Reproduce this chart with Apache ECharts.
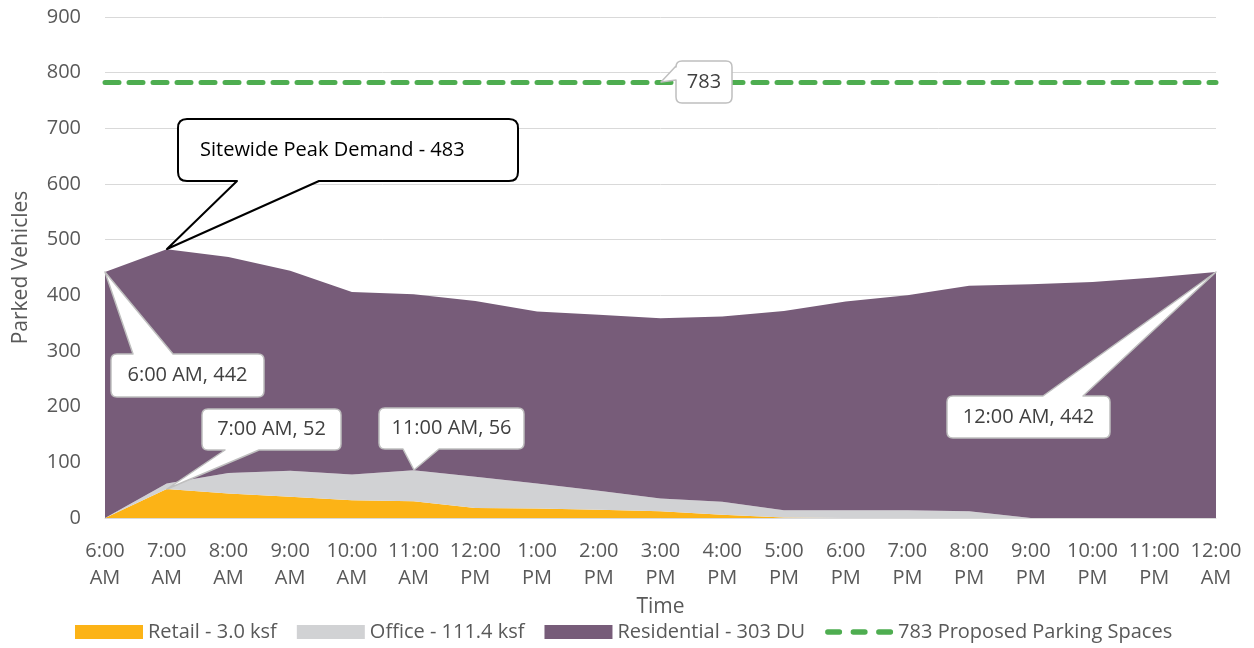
<!DOCTYPE html>
<html>
<head>
<meta charset="utf-8">
<title>Parked Vehicles</title>
<script src="https://cdn.jsdelivr.net/npm/echarts@6/dist/echarts.min.js"></script>
<style>
  html, body { margin: 0; padding: 0; background: #fff; }
  #chart { width: 1254px; height: 648px; }
</style>
</head>
<body>
<div id="chart"></div>
<script>
// data
const hours = ['6:00 AM', '7:00 AM', '8:00 AM', '9:00 AM', '10:00 AM', '11:00 AM',
  '12:00 PM', '1:00 PM', '2:00 PM', '3:00 PM', '4:00 PM', '5:00 PM', '6:00 PM',
  '7:00 PM', '8:00 PM', '9:00 PM', '10:00 PM', '11:00 PM', '12:00 AM'];
const retail = [0, 52, 44, 38, 32, 30, 18, 17, 15, 12, 6, 1, 0, 0, 0, 0, 0, 0, 0];
const office = [0, 10, 37, 47, 46, 56, 56, 45, 34, 23, 23, 13, 14, 14, 12, 0, 0, 0, 0];
const residential = [442, 421, 388, 359, 328, 316, 316, 309, 316, 324, 333, 358, 375, 386, 405, 420, 424, 432, 442];
const parkingSpaces = 783;
const seriesNames = ['Retail - 3.0 ksf', 'Office - 111.4 ksf', 'Residential - 303 DU', '783 Proposed Parking Spaces'];

const colors = {
  retail: '#FCB316',
  office: '#D1D2D4',
  residential: '#775C79',
  parking: '#4EAD50',
  text: '#595959'
};
const font = '"Open Sans", "Noto Sans", sans-serif';

// rounded box with a wedge pointing at (tx, ty)
var Callout = echarts.graphic.extendShape({
  shape: { x: 0, y: 0, w: 0, h: 0, r: 6, side: 'bottom', b1: 0, b2: 0, tx: 0, ty: 0 },
  buildPath: function (ctx, s) {
    var x = s.x, y = s.y, w = s.w, h = s.h, r = s.r;
    ctx.moveTo(x + r, y);
    if (s.side === 'top') { ctx.lineTo(x + s.b1, y); ctx.lineTo(s.tx, s.ty); ctx.lineTo(x + s.b2, y); }
    ctx.lineTo(x + w - r, y);
    ctx.quadraticCurveTo(x + w, y, x + w, y + r);
    ctx.lineTo(x + w, y + h - r);
    ctx.quadraticCurveTo(x + w, y + h, x + w - r, y + h);
    if (s.side === 'bottom') { ctx.lineTo(x + s.b2, y + h); ctx.lineTo(s.tx, s.ty); ctx.lineTo(x + s.b1, y + h); }
    ctx.lineTo(x + r, y + h);
    ctx.quadraticCurveTo(x, y + h, x, y + h - r);
    if (s.side === 'left') { ctx.lineTo(x, y + s.b2); ctx.lineTo(s.tx, s.ty); ctx.lineTo(x, y + s.b1); }
    ctx.lineTo(x, y + r);
    ctx.quadraticCurveTo(x, y, x + r, y);
    ctx.closePath();
  }
});
echarts.graphic.registerShape('callout', Callout);

var chart = echarts.init(document.getElementById('chart'));

function areaSeries(name, data, color) {
  return {
    name: name,
    type: 'line',
    stack: 'total',
    data: data,
    showSymbol: false,
    symbol: 'none',
    lineStyle: { width: 0 },
    itemStyle: { color: color },
    areaStyle: { color: color, opacity: 1 },
    silent: true
  };
}

var dashIcon = 'path://M2.5,0 h11 a2.5,2.5 0 0 1 0,5 h-11 a2.5,2.5 0 0 1 0,-5 Z ' +
  'M26.5,0 h11 a2.5,2.5 0 0 1 0,5 h-11 a2.5,2.5 0 0 1 0,-5 Z ' +
  'M50.5,0 h11 a2.5,2.5 0 0 1 0,5 h-11 a2.5,2.5 0 0 1 0,-5 Z';

chart.setOption({
  animation: false,
  textStyle: { fontFamily: font },
  grid: { left: 105, right: 38, top: 17, bottom: 130, containLabel: false, outerBoundsMode: 'none' },
  xAxis: {
    type: 'category',
    data: hours,
    boundaryGap: false,
    name: 'Time',
    nameLocation: 'middle',
    nameGap: 70,
    nameTextStyle: { color: colors.text, fontSize: 21, fontFamily: font },
    axisLine: { lineStyle: { color: '#D9D9D9', width: 1 } },
    axisTick: { show: false },
    axisLabel: {
      color: colors.text,
      fontSize: 20,
      lineHeight: 27,
      margin: 20,
      interval: 0,
      fontFamily: font,
      formatter: function (v) { return v.replace(' ', '\n'); }
    }
  },
  yAxis: {
    type: 'value',
    min: 0,
    max: 900,
    interval: 100,
    name: 'Parked Vehicles',
    nameLocation: 'middle',
    nameGap: 73,
    nameTextStyle: { color: colors.text, fontSize: 21, fontFamily: font },
    axisLine: { show: false },
    axisTick: { show: false },
    axisLabel: { color: colors.text, fontSize: 20, margin: 24, fontFamily: font },
    splitLine: { lineStyle: { color: '#D9D9D9', width: 1 } }
  },
  legend: {
    left: 70,
    top: 617,
    itemWidth: 68,
    itemHeight: 14,
    itemGap: 20,
    textStyle: { color: colors.text, fontSize: 20, fontFamily: font },
    data: [
      { name: seriesNames[0], icon: 'rect' },
      { name: seriesNames[1], icon: 'rect' },
      { name: seriesNames[2], icon: 'rect' },
      { name: seriesNames[3], icon: dashIcon, itemStyle: { color: colors.parking } }
    ]
  },
  series: [
    areaSeries(seriesNames[0], retail, colors.retail),
    areaSeries(seriesNames[1], office, colors.office),
    areaSeries(seriesNames[2], residential, colors.residential),
    {
      name: seriesNames[3],
      type: 'line',
      data: [],
      symbol: 'none',
      itemStyle: { color: colors.parking },
      lineStyle: { color: colors.parking, width: 5, type: [14, 10], cap: 'round' },
      markLine: {
        silent: true,
        symbol: 'none',
        label: { show: false },
        lineStyle: { color: colors.parking, width: 5, type: [14, 10], cap: 'round' },
        data: [{ yAxis: parkingSpaces }]
      },
      z: 5
    }
  ]
});

// callouts, anchored on data points
function total(i) { return retail[i] + office[i] + residential[i]; }

const callouts = [
  { text: 'Sitewide Peak Demand - ' + total(1), idx: 1, value: total(1), dx: 11, dy: -130, w: 340, h: 62,
    side: 'bottom', b1: 59, b2: 141, stroke: '#000', lw: 2, r: 9, color: '#000', left: true },
  { text: String(parkingSpaces), idx: 9, value: parkingSpaces, dx: 15, dy: -21, w: 56, h: 42,
    side: 'left', b1: 5, b2: 19 },
  { text: hours[0] + ', ' + total(0), idx: 0, value: total(0), dx: 6, dy: 82, w: 153, h: 43,
    side: 'top', b1: 22, b2: 62 },
  { text: hours[1] + ', ' + retail[1], idx: 1, value: retail[1], dx: 35, dy: -80, w: 139, h: 41,
    side: 'bottom', b1: 23, b2: 57 },
  { text: hours[5] + ', ' + office[5], idx: 5, value: retail[5] + office[5], dx: -35, dy: -62, w: 145, h: 41,
    side: 'bottom', b1: 24, b2: 60 },
  { text: hours[18] + ', ' + total(18), idx: 18, value: total(18), dx: -269, dy: 124, w: 163, h: 42,
    side: 'top', b1: 96, b2: 136 }
];

var elements = [];
callouts.forEach(function (c) {
  var pt = chart.convertToPixel({ gridIndex: 0 }, [c.idx, c.value]);
  var tx = Math.round(pt[0]), ty = Math.round(pt[1]);
  var x = tx + c.dx, y = ty + c.dy;
  elements.push({
    type: 'callout',
    z: 100,
    shape: { x: x, y: y, w: c.w, h: c.h, r: c.r || 6, side: c.side, b1: c.b1, b2: c.b2, tx: tx, ty: ty },
    style: { fill: '#fff', stroke: c.stroke || '#BFBFBF', lineWidth: c.lw || 1.5, lineJoin: 'round' }
  });
  elements.push({
    type: 'text',
    z: 101,
    x: c.left ? x + 22 : x + c.w / 2,
    y: y + c.h / 2,
    style: {
      text: c.text,
      font: '20px ' + font,
      fill: c.color || '#404040',
      align: c.left ? 'left' : 'center',
      verticalAlign: 'middle'
    }
  });
});
chart.setOption({ graphic: elements });
</script>
</body>
</html>
